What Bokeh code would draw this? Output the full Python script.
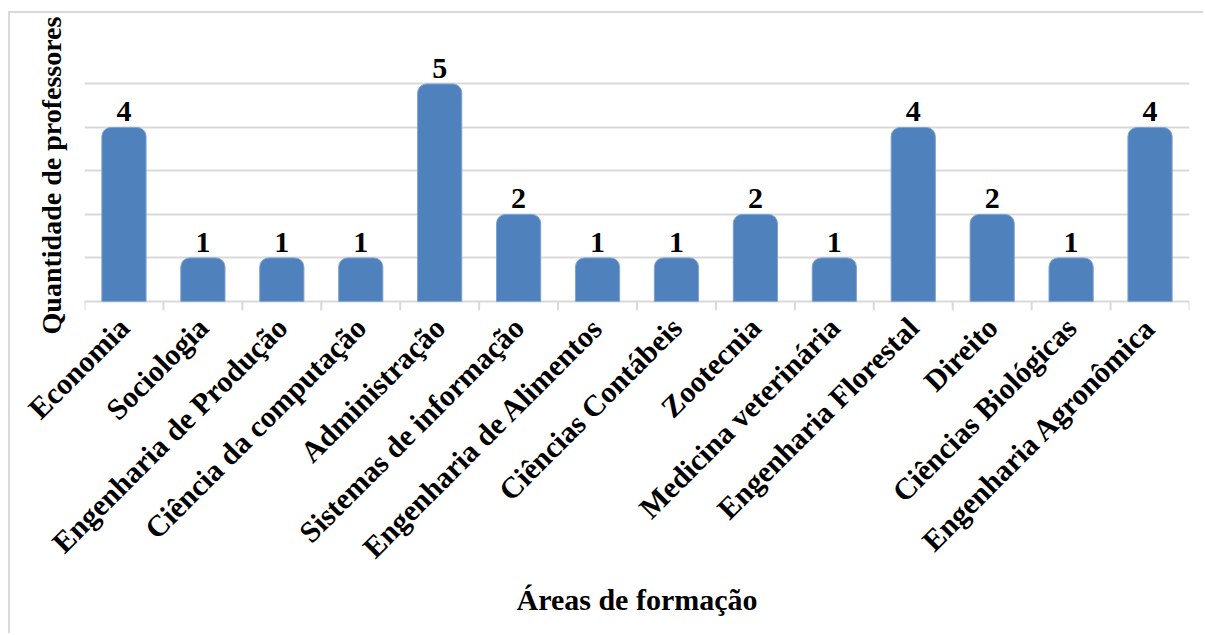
import math
from bokeh.plotting import figure
from bokeh.models import ColumnDataSource, FactorRange, Range1d, FixedTicker
from bokeh.core.properties import value
from bokeh.embed import file_html
from bokeh.resources import INLINE

# Number of professors per field of study
areas = ["Economia", "Sociologia", "Engenharia de Produção", "Ciência da computação",
         "Administração", "Sistemas de informação", "Engenharia de Alimentos",
         "Ciências Contábeis", "Zootecnia", "Medicina veterinária",
         "Engenharia Florestal", "Direito", "Ciências Biológicas", "Engenharia Agronômica"]
professores = [4, 1, 1, 1, 5, 2, 1, 1, 2, 1, 4, 2, 1, 4]
grid_levels = [0, 1, 2, 3, 4, 5, 6]

FONT = "Liberation Serif"
BAR = "#4F81BD"
GRID = "#D9D9D9"
TICK_DEPTH = -0.21   # tick marks hang just below the baseline

src = ColumnDataSource(dict(area=areas, n=professores,
                            txt=[str(v) for v in professores]))

p = figure(x_range=FactorRange(*areas), y_range=Range1d(TICK_DEPTH, 6),
           width=1195, height=622, output_backend="svg", toolbar_location=None,
           min_border_left=74, min_border_right=16, min_border_top=27,
           min_border_bottom=325, outline_line_color=None,
           margin=(11, 0, 0, 8),
           styles={"border-left": f"2px solid {GRID}", "border-top": f"2px solid {GRID}"})
p.background_fill_color = "white"
p.border_fill_color = "white"

# horizontal grid only (level 0 doubles as the category baseline)
p.xgrid.grid_line_color = None
p.ygrid.ticker = FixedTicker(ticks=grid_levels)
p.ygrid.grid_line_color = GRID
p.ygrid.grid_line_width = 2

# separators between categories below the baseline
edges = [(a, -0.5) for a in areas] + [(areas[-1], 0.5)]
p.segment(x0=edges, y0=[0] * len(edges), x1=edges, y1=[TICK_DEPTH] * len(edges),
          line_color=GRID, line_width=2)

p.vbar(x="area", top="n", bottom=0, width=0.56, source=src,
       fill_color=BAR, line_color="#7FA3D1", line_width=1,
       border_radius=(9, 9, 0, 0))

p.text(x="area", y="n", text="txt", source=src, y_offset=-6,
       text_align="center", text_baseline="bottom",
       text_font=value(FONT), text_font_style="bold", text_font_size="30px",
       text_color="black")

# y axis: title only, no ticks or numbers
p.yaxis.ticker = FixedTicker(ticks=[])
p.yaxis.axis_line_color = None
p.yaxis.major_tick_line_color = None
p.yaxis.minor_tick_line_color = None
p.yaxis.axis_label = "Quantidade de professores"
p.yaxis.axis_label_text_font = FONT
p.yaxis.axis_label_text_font_style = "bold"
p.yaxis.axis_label_text_font_size = "28px"
p.yaxis.axis_label_text_color = "black"
p.yaxis.axis_label_standoff = 18

# category labels
cat_axis = p.xaxis[0]
cat_axis.axis_line_color = None
cat_axis.major_tick_line_color = None
cat_axis.minor_tick_line_color = None
cat_axis.major_label_orientation = math.pi / 4
cat_axis.major_label_text_font = FONT
cat_axis.major_label_text_font_style = "bold"
cat_axis.major_label_text_font_size = "30px"
cat_axis.major_label_text_color = "black"
cat_axis.major_label_standoff = 6
cat_axis.axis_label = "Áreas de formação"
cat_axis.axis_label_text_font = FONT
cat_axis.axis_label_text_font_style = "bold"
cat_axis.axis_label_text_font_size = "30px"
cat_axis.axis_label_text_color = "black"
cat_axis.axis_label_standoff = 4

open("out.html", "w").write(file_html(p, INLINE))
